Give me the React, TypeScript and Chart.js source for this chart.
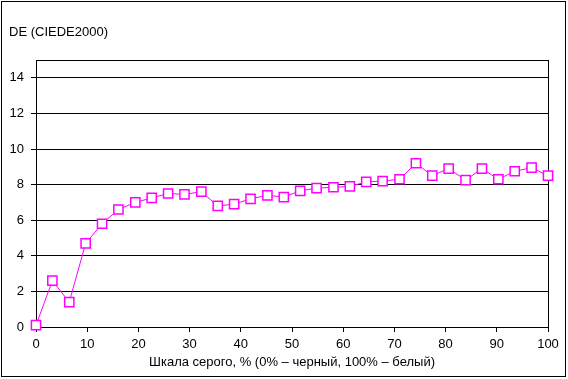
import { useEffect, useRef } from "react";
import { Chart, registerables } from "chart.js";
Chart.register(...registerables);

const grayPercent = [0, 3.2, 6.5, 9.7, 12.9, 16.1, 19.4, 22.6, 25.8, 29.0, 32.3, 35.5, 38.7, 41.9, 45.2, 48.4, 51.6, 54.8, 58.1, 61.3, 64.5, 67.7, 71.0, 74.2, 77.4, 80.6, 83.9, 87.1, 90.3, 93.5, 96.8, 100];
const deValues = [0.1, 2.6, 1.4, 4.7, 5.8, 6.6, 7.0, 7.25, 7.5, 7.45, 7.6, 6.8, 6.9, 7.2, 7.4, 7.3, 7.65, 7.8, 7.85, 7.9, 8.15, 8.2, 8.3, 9.2, 8.5, 8.9, 8.25, 8.9, 8.3, 8.75, 8.95, 8.5];
const yTitle = "DE (CIEDE2000)";
const xTitle = "Шкала серого, % (0% – черный, 100% – белый)";

const FONT = "Arial, 'Liberation Sans', sans-serif";

const framePlugin = {
  id: "frame",
  beforeDatasetsDraw(chart: any) {
    const { ctx, chartArea: a } = chart;
    ctx.save();
    ctx.strokeStyle = "#000";
    ctx.lineWidth = 1;
    ctx.strokeRect(a.left + 0.5, a.top + 0.5, a.right - a.left, a.bottom - a.top);
    ctx.restore();
  },
  afterDraw(chart: any) {
    const { ctx, chartArea: a } = chart;
    ctx.save();
    ctx.strokeStyle = "#000";
    ctx.lineWidth = 1;
    ctx.strokeRect(1.5, 1.5, chart.width - 4, chart.height - 4);
    ctx.fillStyle = "#000";
    ctx.font = `13px ${FONT}`;
    ctx.textBaseline = "middle";
    ctx.textAlign = "left";
    ctx.fillText(yTitle, 9, 32);
    ctx.textAlign = "center";
    ctx.fillText(xTitle, (a.left + a.right) / 2, 362);
    ctx.restore();
  },
};

export default function App() {
  const ref = useRef<HTMLCanvasElement>(null);
  useEffect(() => {
    document.body.style.margin = "0";
    const chart = new Chart(ref.current!, {
      type: "line",
      data: {
        datasets: [
          {
            data: grayPercent.map((x, i) => ({ x, y: deValues[i] })),
            borderColor: "#FF00FF",
            borderWidth: 1,
            backgroundColor: "#FFFFFF",
            pointStyle: "rect",
            pointRadius: 6.5,
            pointBorderWidth: 1.5,
            pointBorderColor: "#FF00FF",
            pointBackgroundColor: "#FFFFFF",
            clip: false,
            tension: 0,
          },
        ],
      },
      options: {
        animation: false,
        responsive: false,
        layout: { padding: { top: 60, right: 20, left: 0, bottom: 0 } },
        plugins: { legend: { display: false }, tooltip: { enabled: false } },
        scales: {
          x: {
            type: "linear",
            min: 0,
            max: 100,
            ticks: { stepSize: 10, color: "#000", font: { size: 13, family: FONT }, padding: 5, maxRotation: 0 },
            grid: { drawOnChartArea: false, drawTicks: true, tickLength: 5, color: "#000" },
            border: { color: "#000" },
            afterFit: (s: any) => { s.height = 52; },
          },
          y: {
            min: 0,
            max: 15,
            ticks: { stepSize: 2, color: "#000", font: { size: 13, family: FONT }, padding: 7 },
            grid: { color: "#000", tickLength: 5 },
            border: { color: "#000" },
            afterBuildTicks: (s: any) => { s.ticks = s.ticks.filter((t: any) => t.value <= 14); },
            afterFit: (s: any) => { s.width = 36; },
          },
        },
      },
      plugins: [framePlugin],
    });
    return () => chart.destroy();
  }, []);
  return <canvas ref={ref} width={568} height={379} style={{ display: "block" }} />;
}
